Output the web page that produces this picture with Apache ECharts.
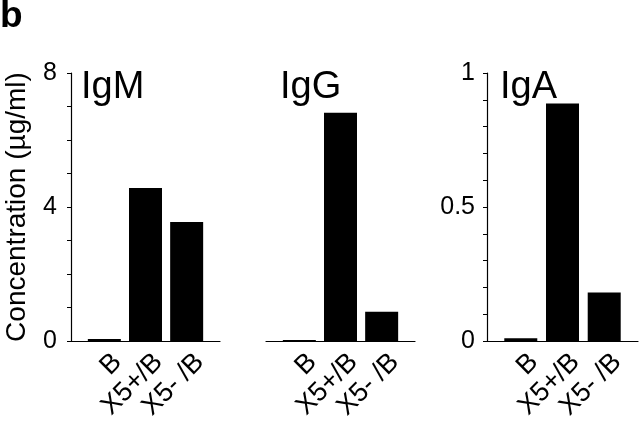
<!DOCTYPE html>
<html>
<head>
<meta charset="utf-8">
<script src="https://cdn.jsdelivr.net/npm/echarts@6/dist/echarts.min.js"></script>
<style>
html,body{margin:0;padding:0;background:#fff;}
#c{width:640px;height:423px;}
</style>
</head>
<body>
<div id="c"></div>
<script>
const categories = ['B', 'X5+/B', 'X5- /B'];
const panelTitles = ['IgM', 'IgG', 'IgA'];
const igmValues = [0.06, 4.57, 3.55];
const iggValues = [0.03, 6.81, 0.87];
const igaValues = [0.01, 0.886, 0.181];
const yMax = [8, 8, 1];
const yInterval = [1, 1, 0.1];
const yLabelStep = [4, 4, 0.5];
const yAxisName = 'Concentration (µg/ml)';
const panelLetter = 'b';

const FONT = '"Liberation Sans", Arial, Helvetica, sans-serif';
const chart = echarts.init(document.getElementById('c'), null, {renderer: 'canvas'});

const grids = [
  {left: 71, top: 73, width: 149, height: 268},
  {left: 266, top: 73, width: 149, height: 268},
  {left: 487, top: 73, width: 151, height: 268}
];
const allValues = [igmValues, iggValues, igaValues];

const xAxes = grids.map((g, i) => ({
  type: 'value', gridIndex: i, min: -0.81, max: 2.81,
  axisLine: {show: true, onZero: false, lineStyle: {color: '#000', width: 1.2}},
  axisTick: {show: false},
  splitLine: {show: false},
  axisLabel: {
    customValues: [0, 1, 2],
    rotate: 45,
    verticalAlign: 'top',
    padding: [5, 0, 0, 0],
    margin: 4,
    color: '#000', fontSize: 27, fontFamily: FONT,
    formatter: v => categories[Math.round(v)] || ''
  }
}));

const yAxes = grids.map((g, i) => ({
  type: 'value', gridIndex: i, min: 0, max: yMax[i], interval: yInterval[i],
  show: i !== 1,
  axisLine: {show: true, onZero: false, lineStyle: {color: '#000', width: 1.2}},
  axisTick: {show: true, length: 4, lineStyle: {color: '#000', width: 1}},
  splitLine: {show: false},
  axisLabel: {
    margin: i === 0 ? 14 : 12,
    color: '#000', fontSize: 25, fontFamily: FONT,
    formatter: v => {
      const r = v / yLabelStep[i];
      return Math.abs(r - Math.round(r)) < 1e-6 ? String(Math.round(v * 10) / 10) : '';
    }
  },
  name: i === 0 ? yAxisName : '',
  nameLocation: 'middle',
  nameGap: 40,
  nameTextStyle: {color: '#000', fontSize: 28, fontFamily: FONT}
}));

const series = allValues.map((vals, i) => ({
  type: 'bar', xAxisIndex: i, yAxisIndex: i,
  barWidth: 33,
  itemStyle: {color: '#000'},
  silent: true,
  data: vals.map((v, k) => [k, v])
}));

const titleLefts = [81, 280, 500];
const titles = panelTitles.map((t, i) => ({
  text: t, left: titleLefts[i], top: 69, padding: 0,
  textStyle: {color: '#000', fontSize: 38, fontWeight: 'normal', fontFamily: FONT}
}));
titles.push({
  text: panelLetter, left: 0, top: -2, padding: 0,
  textStyle: {color: '#000', fontSize: 37, fontWeight: 'bold', fontFamily: FONT}
});

chart.setOption({
  animation: false,
  backgroundColor: '#fff',
  title: titles,
  grid: grids,
  xAxis: xAxes,
  yAxis: yAxes,
  series: series
});
</script>
</body>
</html>
